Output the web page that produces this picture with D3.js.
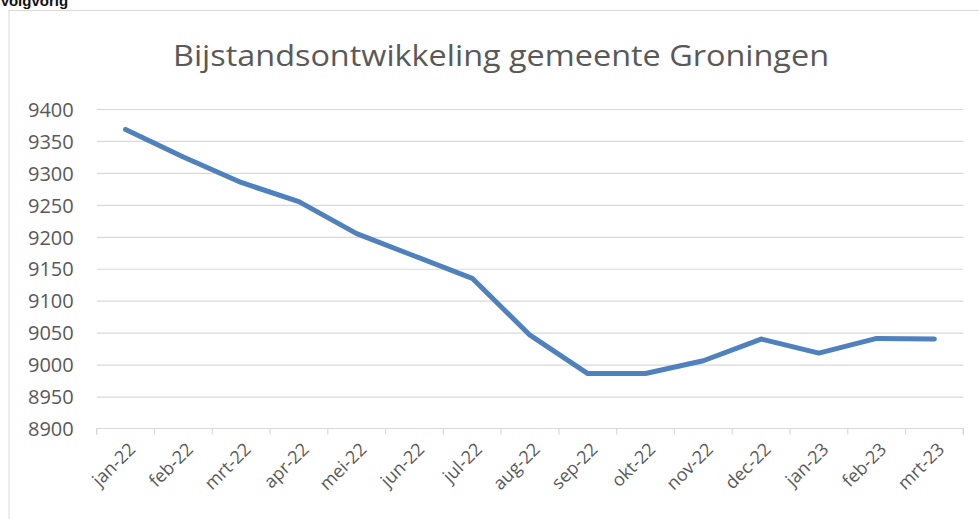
<!DOCTYPE html>
<html><head><meta charset="utf-8">
<script src="https://cdn.jsdelivr.net/npm/d3@7"></script>
<style>
html,body{margin:0;padding:0;background:#fff;overflow:hidden;}
svg{display:block;font-family:"Open Sans","Noto Sans",sans-serif;}
</style></head>
<body>
<svg id="chart" width="979" height="519"></svg>
<script>
const title = "Bijstandsontwikkeling gemeente Groningen";
const months = ["jan-22","feb-22","mrt-22","apr-22","mei-22","jun-22","jul-22","aug-22","sep-22","okt-22","nov-22","dec-22","jan-23","feb-23","mrt-23"];
const values = [9368, 9325, 9285, 9255, 9205, 9170, 9135, 9046, 8986, 8986, 9006, 9040, 9018, 9041, 9040];
const yTicks = [8900, 8950, 9000, 9050, 9100, 9150, 9200, 9250, 9300, 9350, 9400];

(function () {
const svg = d3.select("#chart");
const W = 979, H = 519;
const mLeft = 96.7, mRight = 963.3, mTop = 109, mBottom = 428.5;

// page text cut at the top
svg.append("text").attr("x", 0).attr("y", 6)
  .attr("font-family", "Liberation Sans, Arial, sans-serif")
  .attr("font-weight", "bold").attr("font-size", 15).attr("fill", "#111")
  .text("Volgvorig");

// chart border
svg.append("rect").attr("x", 9).attr("y", 10.5).attr("width", W + 20).attr("height", H + 20)
  .attr("fill", "none").attr("stroke", "#d9d9d9").attr("stroke-width", 1);

const x = d3.scaleBand().domain(months).range([mLeft, mRight]).padding(0);
const y = d3.scaleLinear().domain([8900, 9400]).range([mBottom, mTop]);

// title
svg.append("text").attr("x", 501).attr("y", 66).attr("text-anchor", "middle")
  .attr("font-size", 30).attr("fill", "#595959").attr("textLength", 656)
  .attr("lengthAdjust", "spacingAndGlyphs").text(title);

// gridlines
const yAxis = d3.axisLeft(y).tickValues(yTicks).tickSize(-(mRight - mLeft)).tickFormat(d3.format("d"));
const gy = svg.append("g").attr("transform", `translate(${mLeft},0)`).call(yAxis);
gy.select(".domain").remove();
gy.selectAll(".tick line").attr("stroke", "#d9d9d9").attr("stroke-width", 1.2)
  .filter(d => d === 8900).remove();
gy.selectAll(".tick text").attr("x", -23).attr("font-size", 20).attr("fill", "#595959")
  .attr("font-family", "Open Sans, sans-serif").attr("dy", "0.36em");

// x axis
const xAxis = d3.axisBottom(x).tickSize(0).tickFormat(d => d);
const gx = svg.append("g").attr("transform", `translate(0,${mBottom})`).call(xAxis);
gx.select(".domain").attr("stroke", "#d9d9d9").attr("stroke-width", 1.2)
  .attr("d", `M${mLeft},6V0H${mRight}V6`);
const bounds = months.map(m => x(m)).concat([mRight]);
svg.append("g").selectAll("line").data(bounds).join("line")
  .attr("x1", d => d).attr("x2", d => d).attr("y1", mBottom).attr("y2", mBottom + 6)
  .attr("stroke", "#d9d9d9").attr("stroke-width", 1.2);
gx.selectAll(".tick text")
  .attr("font-size", 18).attr("fill", "#595959").attr("font-family", "Open Sans, sans-serif")
  .attr("text-anchor", "end").attr("dy", 0).attr("y", 0)
  .attr("transform", "translate(11,22) rotate(-45)");

// line
const line = d3.line().x((d, i) => x(months[i]) + x.bandwidth() / 2).y(d => y(d));
svg.append("path").datum(values).attr("d", line)
  .attr("fill", "none").attr("stroke", "#4f81bd").attr("stroke-width", 5)
  .attr("stroke-linejoin", "round").attr("stroke-linecap", "round");
})();
</script>
</body></html>
